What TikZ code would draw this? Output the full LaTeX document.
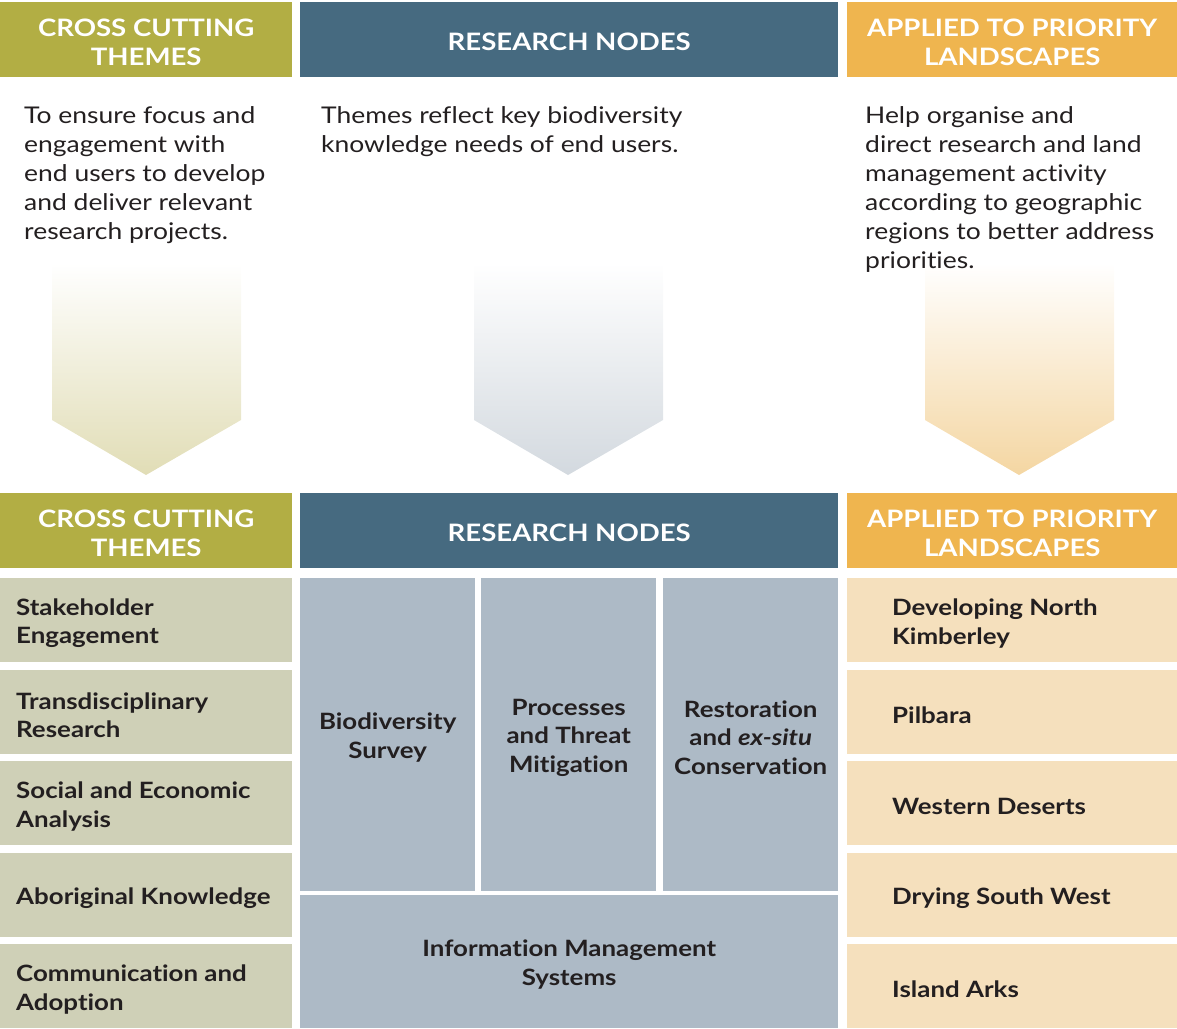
\documentclass[tikz,border=0pt]{standalone}
\usepackage{fontspec}
\setmainfont{Lato}[FakeStretch=1.15, Ligatures=NoCommon]
\usepackage{tikz}
\usetikzlibrary{positioning}
\usepackage{xcolor}

\definecolor{olive}{HTML}{B2AE44}
\definecolor{slate}{HTML}{466A80}
\definecolor{amber}{HTML}{EFB54F}
\definecolor{sage}{HTML}{CFD0B7}
\definecolor{steel}{HTML}{ADBAC6}
\definecolor{sand}{HTML}{F5E0BD}
\definecolor{ink}{HTML}{231F20}
\definecolor{olivefade}{HTML}{E1DDB6}
\definecolor{steelfade}{HTML}{D3D9DF}
\definecolor{sandfade}{HTML}{F4D6A2}

\tikzset{
  tile/.style={fill=#1, inner sep=0pt, anchor=north west},
  headtext/.style={text=white, font=\fontsize{24}{28.5}\selectfont\bfseries,
    align=center, inner sep=0pt, yshift=-2.5pt},
  tag/.style={text=ink, font=\fontsize{22.5}{28.7}\selectfont\bfseries, inner sep=0pt, yshift=-3pt},
  blurb/.style={text=ink, font=\fontsize{23}{29}\selectfont, align=left,
    inner sep=0pt, anchor=north west},
}

\begin{document}
\begin{tikzpicture}[x=1pt, y=-1pt]
  \useasboundingbox (0,0) rectangle (1177,1028);

  % top headers
  \node[tile=olive, minimum width=292pt, minimum height=75pt] (cutTop) at (0,2) {};
  \node[tile=slate, minimum width=538pt, minimum height=75pt] (nodesTop) at (300,2) {};
  \node[tile=amber, minimum width=330pt, minimum height=75pt] (landTop) at (847,2) {};
  \node[headtext] at (cutTop) {CROSS CUTTING\\THEMES};
  \node[headtext] at (nodesTop) {RESEARCH NODES};
  \node[headtext] at (landTop) {APPLIED TO PRIORITY\\LANDSCAPES};

  % fading chevrons
  \shade[top color=white, bottom color=olivefade] (52,263) -- (241,263) -- (241,420) -- (146,475) -- (52,420) -- cycle;
  \shade[top color=white, bottom color=steelfade] (474,263) -- (663,263) -- (663,420) -- (568,475) -- (474,420) -- cycle;
  \shade[top color=white, bottom color=sandfade] (925,263) -- (1114,263) -- (1114,420) -- (1019,475) -- (925,420) -- cycle;

  % short descriptions
  \node[blurb] (cutText) at (24,106) {To ensure focus and\\engagement with\\end users to develop\\and deliver relevant\\research projects.};
  \node[blurb] (nodesText) at (321,106) {Themes reflect key biodiversity\\knowledge needs of end users.};
  \node[blurb] (landText) at (865,106) {Help organise and\\direct research and land\\management activity\\according to geographic\\regions to better address\\priorities.};

  % bottom headers
  \node[tile=olive, minimum width=292pt, minimum height=75pt] (cutHead) at (0,493) {};
  \node[tile=slate, minimum width=538pt, minimum height=75pt] (nodesHead) at (300,493) {};
  \node[tile=amber, minimum width=330pt, minimum height=75pt] (landHead) at (847,493) {};
  \node[headtext] at (cutHead) {CROSS CUTTING\\THEMES};
  \node[headtext] at (nodesHead) {RESEARCH NODES};
  \node[headtext] at (landHead) {APPLIED TO PRIORITY\\LANDSCAPES};

  % cross cutting themes
  \foreach \name/\row/\txt in {ct1/578/{Stakeholder\\Engagement},
      ct2/670/{Transdisciplinary\\Research},
      ct3/761/{Social and Economic\\Analysis},
      ct4/853/{Aboriginal Knowledge},
      ct5/944/{Communication and\\Adoption}}{
    \node[tile=sage, minimum width=292pt, minimum height=84pt] (\name) at (0,\row) {};
    \node[tag, align=left, anchor=west, right=16pt of \name.west] {\txt};
  }

  % research nodes
  \node[tile=steel, minimum width=175pt, minimum height=313pt] (survey) at (300,578) {};
  \node[tile=steel, minimum width=175pt, minimum height=313pt] (threat) at (481,578) {};
  \node[tile=steel, minimum width=175pt, minimum height=313pt] (restore) at (663,578) {};
  \node[tile=steel, minimum width=538pt, minimum height=133pt] (infoSys) at (300,895) {};
  \node[tag, align=center] at (survey) {Biodiversity\\Survey};
  \node[tag, align=center] at (threat) {Processes\\and Threat\\Mitigation};
  \node[tag, align=center] at (restore) {Restoration\\and \textit{ex-situ}\\Conservation};
  \node[tag, align=center] at (infoSys) {Information Management\\Systems};

  % priority landscapes
  \foreach \name/\row/\txt in {pl1/578/{Developing North\\Kimberley},
      pl2/670/{Pilbara},
      pl3/761/{Western Deserts},
      pl4/853/{Drying South West},
      pl5/944/{Island Arks}}{
    \node[tile=sand, minimum width=330pt, minimum height=84pt] (\name) at (847,\row) {};
    \node[tag, align=left, anchor=west, right=45pt of \name.west] {\txt};
  }
\end{tikzpicture}
\end{document}
